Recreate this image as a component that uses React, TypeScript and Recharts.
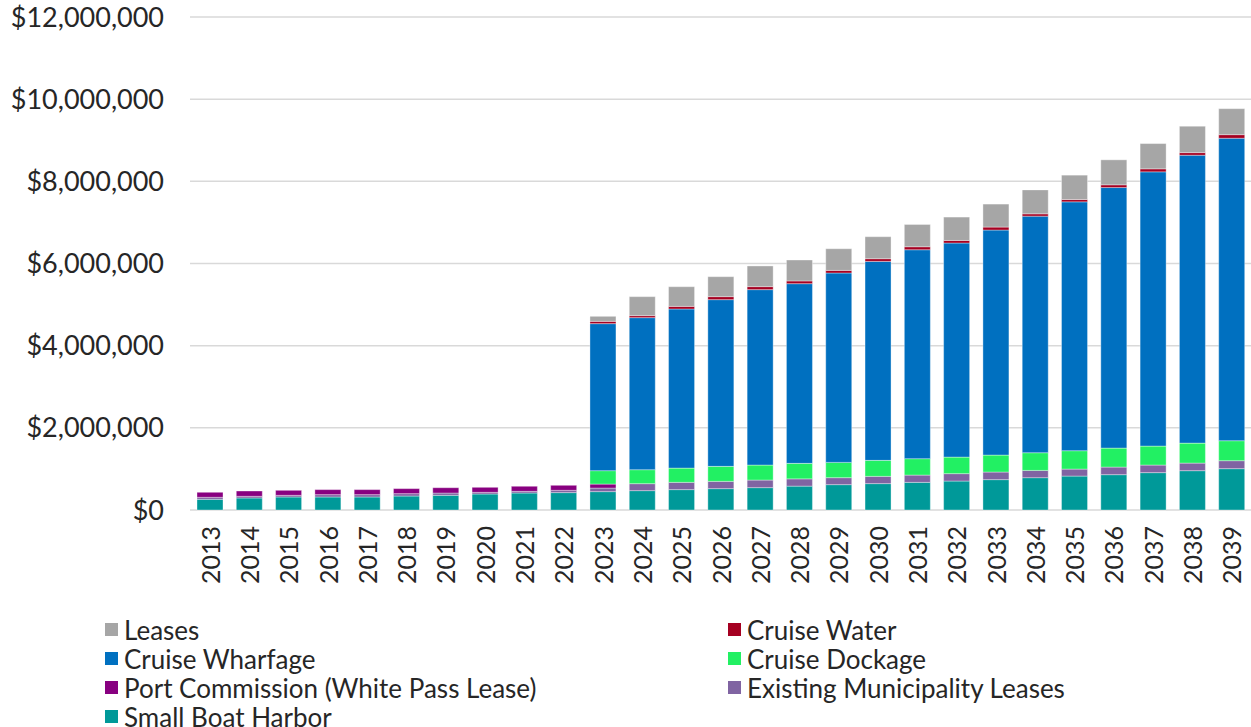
import React from "react"
import { BarChart, Bar, XAxis, YAxis, CartesianGrid, Legend } from "recharts"

const years = [
  "2013", "2014", "2015", "2016", "2017", "2018", "2019", "2020", "2021", "2022",
  "2023", "2024", "2025", "2026", "2027", "2028", "2029", "2030", "2031", "2032",
  "2033", "2034", "2035", "2036", "2037", "2038", "2039",
]

// values in $ thousands
const smallBoatHarbor = [
  260, 292, 316, 316, 316, 340, 357, 389, 413, 423,
  447, 471, 496, 520, 544, 581, 617, 642, 673, 705, 739, 787, 826, 860, 909, 957, 1006,
]
const municipalityLeases = [
  49, 41, 41, 58, 58, 58, 56, 41, 41, 56,
  87, 170, 177, 177, 185, 177, 170, 177, 177, 180, 185, 177, 170, 185, 185, 185, 194,
]
const portCommission = [
  122, 129, 122, 122, 122, 122, 129, 122, 122, 122,
  97, 0, 0, 0, 0, 0, 0, 0, 0, 0, 0, 0, 0, 0, 0, 0, 0,
]
const cruiseDockage = [
  0, 0, 0, 0, 0, 0, 0, 0, 0, 0,
  326, 340, 347, 365, 365, 377, 372, 389, 399, 403, 413, 430, 447, 462, 462, 486, 486,
]
const cruiseWharfage = [
  0, 0, 0, 0, 0, 0, 0, 0, 0, 0,
  3579, 3701, 3873, 4058, 4270, 4374, 4610, 4843, 5086, 5210, 5477, 5759, 6058, 6342, 6675, 7008, 7363,
]
const cruiseWater = [
  0, 0, 0, 0, 0, 0, 0, 0, 0, 0,
  56, 49, 63, 73, 73, 66, 63, 66, 73, 63, 73, 56, 56, 66, 73, 63, 87,
]
const leases = [
  0, 0, 0, 0, 0, 0, 0, 0, 0, 0,
  122, 462, 479, 486, 503, 510, 527, 535, 542, 569, 559, 583, 593, 608, 615, 642, 632,
]

const yTicks = [0, 2000000, 4000000, 6000000, 8000000, 10000000, 12000000]

const data = years.map((year, i) => ({
  year,
  smallBoatHarbor: smallBoatHarbor[i] * 1000,
  municipalityLeases: municipalityLeases[i] * 1000,
  portCommission: portCommission[i] * 1000,
  cruiseDockage: cruiseDockage[i] * 1000,
  cruiseWharfage: cruiseWharfage[i] * 1000,
  cruiseWater: cruiseWater[i] * 1000,
  leases: leases[i] * 1000,
}))

// stacking order, bottom to top
const series = [
  { key: "smallBoatHarbor", name: "Small Boat Harbor", color: "#009999" },
  { key: "municipalityLeases", name: "Existing Municipality Leases", color: "#8064a2" },
  { key: "portCommission", name: "Port Commission (White Pass Lease)", color: "#880080" },
  { key: "cruiseDockage", name: "Cruise Dockage", color: "#22f063" },
  { key: "cruiseWharfage", name: "Cruise Wharfage", color: "#0070c0" },
  { key: "cruiseWater", name: "Cruise Water", color: "#a50021" },
  { key: "leases", name: "Leases", color: "#a6a6a6" },
]

// legend reads left column then right column, row by row
const legendOrder = [
  "leases", "cruiseWater",
  "cruiseWharfage", "cruiseDockage",
  "portCommission", "municipalityLeases",
  "smallBoatHarbor",
]

const FONT = "Lato, 'DejaVu Sans', sans-serif"
const TEXT = "#262626"

const formatMoney = (v: number) => "$" + v.toLocaleString("en-US")

const YearTick = ({ x, y, payload }: any) => (
  <text
    x={x}
    y={y}
    transform={`rotate(-90, ${x}, ${y})`}
    textAnchor="end"
    dominantBaseline="central"
    fontSize={25}
    fontFamily={FONT}
    fill={TEXT}
  >
    {payload.value}
  </text>
)

const ChartLegend = () => (
  <div
    style={{
      height: 117,
      paddingTop: 5,
      boxSizing: "border-box",
      display: "grid",
      gridTemplateColumns: "623px 523px",
      paddingLeft: 105,
      fontFamily: FONT,
      fontSize: 26,
      color: TEXT,
    }}
  >
    {legendOrder.map((key) => {
      const s = series.find((d) => d.key === key)!
      return (
        <div key={key} style={{ display: "flex", alignItems: "center", height: 29, whiteSpace: "nowrap" }}>
          <span style={{ width: 13, height: 13, background: s.color, marginRight: 6, flexShrink: 0 }} />
          <span>{s.name}</span>
        </div>
      )
    })}
  </div>
)

export default function App() {
  return (
    <div style={{ position: "absolute", left: 0, top: 0, width: 1251, height: 727, background: "#fff" }}>
      <BarChart
        width={1251}
        height={727}
        data={data}
        margin={{ top: 17, right: 0, bottom: 0, left: 0 }}
        barSize={26}
      >
        <CartesianGrid vertical={false} stroke="#d9d9d9" strokeWidth={1.5} />
        <XAxis
          dataKey="year"
          axisLine={false}
          tickLine={false}
          tickSize={0}
          tickMargin={16}
          interval={0}
          height={100}
          tick={<YearTick />}
        />
        <YAxis
          width={190}
          domain={[0, 12000000]}
          ticks={yTicks}
          tickFormatter={formatMoney}
          axisLine={false}
          tickLine={false}
          tickSize={0}
          tickMargin={26}
          tick={{ fontSize: 27, fontFamily: FONT, fill: TEXT }}
        />
        <Legend verticalAlign="bottom" content={<ChartLegend />} />
        {series.map((s) => (
          <Bar
            key={s.key}
            dataKey={s.key}
            name={s.name}
            stackId="revenue"
            fill={s.color}
            stroke="#ffffff"
            strokeOpacity={0.35}
            strokeWidth={1}
            isAnimationActive={false}
          />
        ))}
      </BarChart>
    </div>
  )
}
